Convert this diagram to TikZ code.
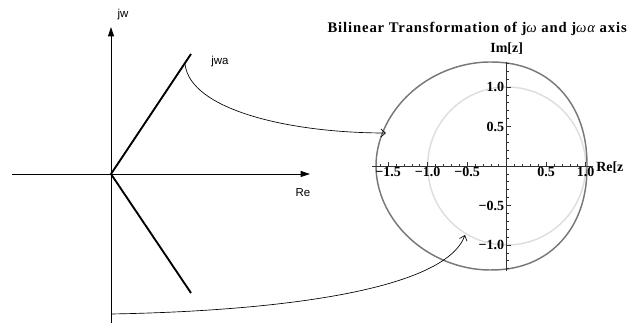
\documentclass[tikz,border=0pt]{standalone}
\usepackage{fontspec}
\setmainfont{Liberation Serif}
\setsansfont{Liberation Sans}
\usetikzlibrary{positioning,arrows.meta,calc}
\definecolor{curvecol}{RGB}{120,120,120}
\definecolor{circcol}{RGB}{222,222,222}
\definecolor{axcol}{RGB}{50,50,50}

\begin{document}
\begin{tikzpicture}[
    x=0.75pt, y=-0.75pt,
    axis/.style={-{Triangle[length=7pt,width=4.5pt]}, line width=0.6pt},
    ray/.style={line width=1.4pt},
    map/.style={-{Straight Barb[length=3.5pt,width=6pt]}, line width=0.5pt},
    slab/.style={font=\sffamily\fontsize{8.6}{10}\selectfont, inner sep=0pt},
    plab/.style={font=\bfseries\fontsize{10.5}{12}\selectfont, inner sep=0.6pt},
    paxis/.style={color=axcol, line width=0.5pt},
    zcurve/.style={color=#1, line width=1.1pt},
]
\useasboundingbox (0,0) rectangle (627,323);

% ---- s-plane ----
\coordinate (o) at (111,174);
\coordinate (imtop) at (111,27);
\coordinate (imbot) at (111,323);
\coordinate (releft) at (12,174);
\coordinate (reright) at (310,174);
\draw[axis] (imbot) -- (imtop);
\draw[axis] (releft) -- (reright);
\node[slab] (jw) at (123,15) {jw};
\node[slab] (re) at (303,193) {Re};
\node[slab] (jwa) at (220,62) {jwa};

\coordinate (raytop) at (191,54);
\coordinate (raybot) at (191,293);
\draw[ray] (raytop) -- (o) -- (raybot);

% ---- z-plane ----
\draw[zcurve=circcol] (506.7,166) circle (59.25pt);
% right half flatter, left half a bit pointed
\draw[zcurve=curvecol, variable=\t, samples=80, smooth]
  plot[domain=-90:90] ({490+97*cos(\t)*pow(abs(cos(\t))+0.0001,-0.091)},
                       {166-104*sin(\t)*pow(abs(sin(\t))+0.0001,-0.091)})
  -- plot[domain=90:270] ({490+114*cos(\t)*pow(abs(cos(\t))+0.0001,0.03)},
                          {166-104*sin(\t)*pow(abs(sin(\t))+0.0001,0.03)})
  -- cycle;

\begin{scope}[shift={(506.7,166)}, x=59.25pt, y=59.25pt]
  \draw[paxis] (-1.70,0) -- (1.09,0);
  \draw[paxis] (0,-1.33) -- (0,1.32);
  \foreach \t in {-16,...,10}
    \draw[paxis] (\t/10,0) -- ++(0,0.03);
  \foreach \t in {-13,...,13}
    \draw[paxis] (0,\t/10) -- ++(0.03,0);
  \foreach \t in {-1.5,-1,-0.5,0.5,1}
    \draw[paxis] (\t,0) -- ++(0,0.055);
  \foreach \t in {-1,-0.5,0.5,1}
    \draw[paxis] (0,\t) -- ++(0.055,0);
  \foreach \t/\lab [count=\i] in {-1.5/−1.5, -1/−1.0, -0.5/−0.5, 0.5/0.5, 1/1.0}
    \node[plab, anchor=north] (xt\i) at (\t,0) {\lab};
  \foreach \t/\lab [count=\i] in {1/1.0, 0.5/0.5, -0.5/−0.5, -1/−1.0}
    \node[plab, anchor=east] (yt\i) at (-0.02,\t) {\lab};
  \node[plab] (imz) at (0,1.48) {Im[z]};
  \node[plab, anchor=west] (rez) at (1.12,-0.02) {Re[z};
\end{scope}
\node[font=\bfseries\fontsize{11}{13}\selectfont\addfontfeature{LetterSpace=6}, anchor=east, inner sep=0pt]
  (title) at (627,29) {Bilinear Transformation of j{\mdseries\itshape ω} and j{\mdseries\itshape ωα} axis};

% ---- mapping arrows ----
\coordinate (wa) at (185,64);
\coordinate (wb) at (111,314);
\coordinate (za) at (386,133);
\coordinate (zb) at (465,235);
\draw[map] (wa) .. controls (190,110) and (290,133) .. (za);
\draw[map] (wb) .. controls (280,311) and (445,290) .. (zb);

\end{tikzpicture}
\end{document}
